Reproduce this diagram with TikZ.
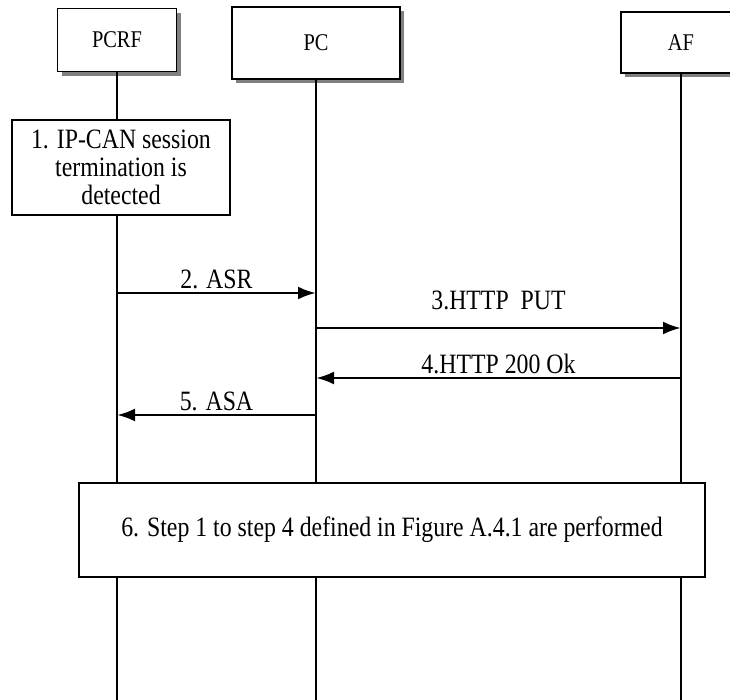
\documentclass[tikz,border=0pt]{standalone}
\usepackage{fontspec}
\setmainfont{Liberation Serif}[FakeStretch=0.85]
\usetikzlibrary{arrows.meta,shadows}
\definecolor{shadowgray}{RGB}{128,128,128}
\tikzstyle{entity}=[draw,fill=white,line width=1.2pt,inner sep=0pt,font=\fontsize{24}{28}\selectfont,general shadow={fill=shadowgray,shadow xshift=4pt,shadow yshift=-4.5pt}]
\tikzstyle{stepbox}=[draw,fill=white,line width=1.2pt,align=center,font=\fontsize{28}{28}\selectfont]
\tikzstyle{lifeline}=[line width=1.6pt]
\tikzstyle{msg}=[line width=2.8pt,-{Latex[length=18pt,width=13pt]}]
\tikzstyle{msglabel}=[font=\fontsize{28}{28}\selectfont,inner sep=3pt]

\begin{document}
\begin{tikzpicture}[x=1pt,y=-1pt]
\useasboundingbox (0,0) rectangle (730,700);
\draw (117, 40) node [entity,minimum width=119pt,minimum height=63pt] (pcrf) {PCRF};
\draw (316, 43) node [entity,minimum width=168pt,minimum height=72pt] (pc) {PC};
\draw (681, 42.5) node [entity,minimum width=120pt,minimum height=61pt] (af) {AF};
\coordinate (pcrf-end) at (pcrf |- 0,700);
\coordinate (pc-end) at (pc |- 0,700);
\coordinate (af-end) at (af |- 0,700);
\draw[lifeline] (pcrf) -- (pcrf-end);
\draw[lifeline] (pc) -- (pc-end);
\draw[lifeline] (af) -- (af-end);
\draw (121, 167.5) node [stepbox,minimum width=218pt,minimum height=95pt] (detect) {1. IP-CAN session\\termination is\\detected};
\draw (392, 530) node [stepbox,minimum width=626pt,minimum height=94pt] (steps) {6. Step 1 to step 4 defined in Figure A.4.1 are performed};
\coordinate (asr-s) at (pcrf |- 0,293);
\coordinate (asr-e) at (pc |- 0,293);
\coordinate (put-s) at (pc |- 0,328);
\coordinate (put-e) at (af |- 0,328);
\coordinate (ok-s) at (af |- 0,378);
\coordinate (ok-e) at (pc |- 0,378);
\coordinate (asa-s) at (pc |- 0,415);
\coordinate (asa-e) at (pcrf |- 0,415);
\draw[msg] (asr-s) -- node[msglabel,above] {2. ASR} (asr-e);
\draw[msg] (put-s) -- node[msglabel,above,yshift=14pt] {3.HTTP\ \ PUT} (put-e);
\draw[msg] (ok-s) -- node[msglabel,above] {4.HTTP 200 Ok} (ok-e);
\draw[msg] (asa-s) -- node[msglabel,above] {5. ASA} (asa-e);
\end{tikzpicture}
\end{document}
